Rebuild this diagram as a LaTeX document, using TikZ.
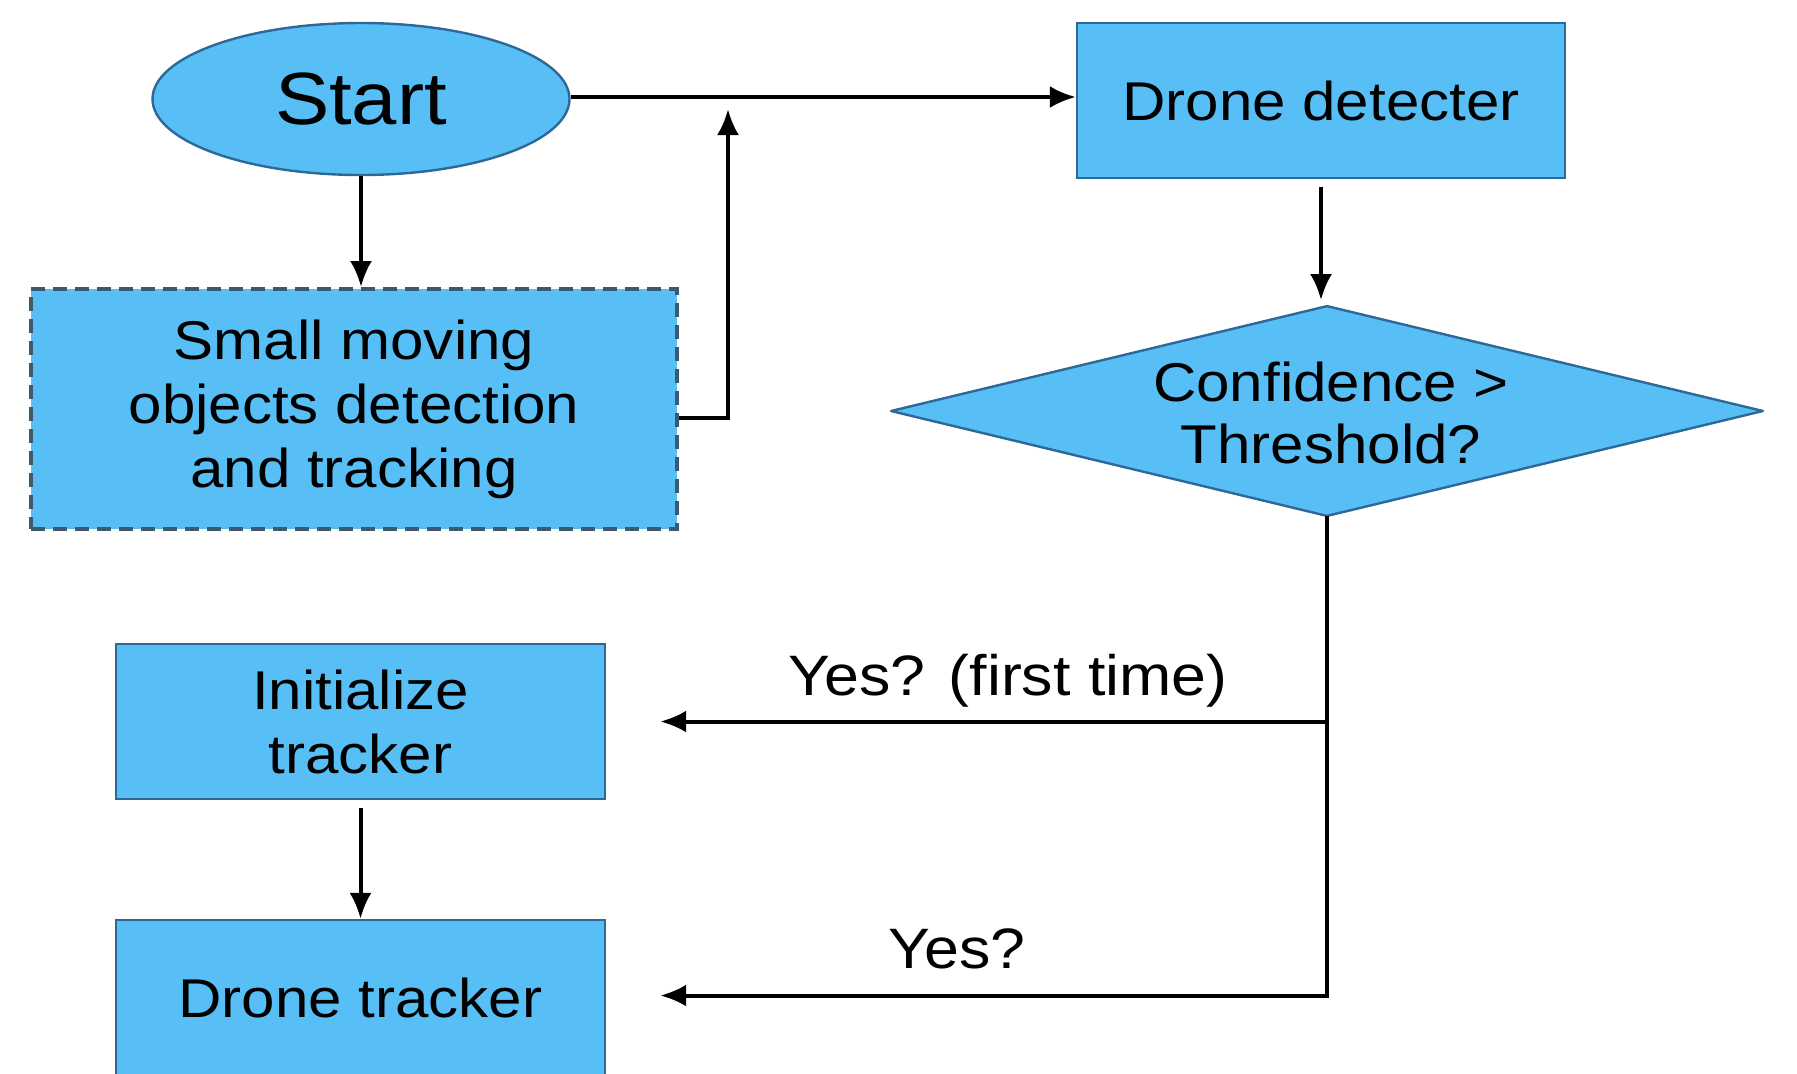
\documentclass[tikz,border=0pt]{standalone}
\usepackage{fontspec}
\setmainfont{Liberation Sans}[FakeStretch=1.1]
\usetikzlibrary{arrows.meta,calc,shapes.geometric}
\definecolor{boxfill}{RGB}{88,190,246}
\definecolor{boxline}{RGB}{45,105,150}
\definecolor{dashline}{RGB}{60,90,110}
\tikzset{
  stepbox/.style={rectangle, draw=boxline, line width=1.2pt, fill=boxfill, inner sep=0pt, align=center,
     font=\fontsize{27.3}{32}\selectfont},
  conn/.style={line width=2pt, draw=black},
  arr/.style={conn, -{Latex[length=13pt,width=11pt]}},
  lbl/.style={font=\fontsize{28.5}{32}\selectfont, inner sep=0pt}
}
\begin{document}
\begin{tikzpicture}[x=0.5pt,y=-0.5pt]
\useasboundingbox (0,0) rectangle (1797,1073);
% nodes
\node[ellipse, draw=boxline, line width=1.2pt, fill=boxfill, minimum width=208.5pt, minimum height=76pt, inner sep=0pt,
      font=\fontsize{37}{40}\selectfont] (start) at (361,99) {Start};
\node[stepbox, draw=dashline, line width=2pt, dash pattern=on 7pt off 4pt, minimum width=323pt, minimum height=120pt] (small) at (354,409)
   {Small moving\\objects detection\\and tracking};
\node[stepbox, minimum width=244pt, minimum height=77.5pt] (det) at (1321,100.5) {Drone detecter};
\node[rectangle, inner sep=0pt, minimum width=435.5pt, minimum height=104.5pt] (dia) at (1327,411) {};
\fill[boxfill] (dia.north) -- (dia.east) -- (dia.south) -- (dia.west) -- cycle;
\draw[boxline, line width=1.2pt, line join=round] (dia.north) -- (dia.east) -- (dia.south) -- (dia.west) -- cycle;
\node[align=center, font=\fontsize{27.3}{31}\selectfont, inner sep=0pt] (diatext) at (1331,413) {Confidence >\\Threshold?};
\node[stepbox, minimum width=244.5pt, minimum height=77.5pt] (init) at (360.5,721.5) {Initialize\\tracker};
\node[stepbox, minimum width=244.5pt, minimum height=77.5pt] (dtrack) at (360.5,997.5) {Drone tracker};
\coordinate (join) at (728,97);
% labels
\node[lbl] (lab1) at (1008,681) {Yes? (first time)};
\node[lbl] (lab2) at (957,949) {Yes?};
% connectors
\draw[arr] ([yshift=1pt]start.east) -- ([yshift=1pt]start.east -| det.west);
\draw[arr] (start.south) -- (start.south |- small.north);
\draw[arr] ([yshift=-4.5pt]small.east) -| ([yshift=-6pt]join);
\draw[arr, shorten <=4pt, shorten >=3pt] (det.south) -- (det.south |- dia.north);
\draw[conn] (dia.south) -- (dia.south |- dtrack.east);
\draw[arr, shorten >=27pt] (dia.south |- init.east) -- (init.east);
\draw[arr, shorten >=27pt] ([yshift=1pt]dia.south |- dtrack.east) -- ([yshift=1pt]dtrack.east);
\draw[arr, shorten <=4pt] (init.south) -- (init.south |- dtrack.north);
\end{tikzpicture}
\end{document}
